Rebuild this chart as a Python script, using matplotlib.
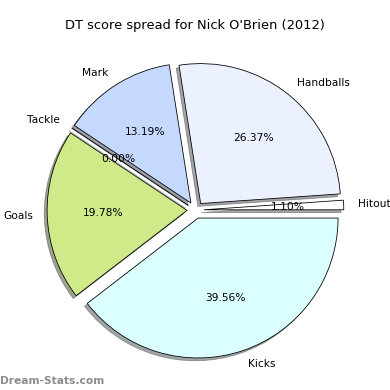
import matplotlib
matplotlib.use('Agg')
import matplotlib.pyplot as plt

# DT points per stat category (counter-clockwise from 3 o'clock)
labels = ['Hitout', 'Handballs', 'Mark', 'Tackle', 'Goals', 'Kicks']
points = [1, 24, 12, 0, 18, 36]
colors = ['#ffffff', '#ebf1ff', '#c5d9ff', '#c5d9ff', '#d0ea8a', '#dbffff']
explode = [0.06] * len(points)

fig = plt.figure(figsize=(390 / 72, 390 / 72), dpi=72)
ax = fig.add_axes([0.0526, 0.0128, 0.897, 0.897])

wedges, texts, autotexts = ax.pie(points, labels=labels, colors=colors,
                                  explode=explode, autopct='%1.2f%%',
                                  shadow=True, startangle=0,
                                  wedgeprops={'edgecolor': 'black', 'linewidth': 0.8})
for t in texts + autotexts:
    t.set_fontsize(10.6)

ax.set_title("DT score spread for Nick O'Brien (2012)", fontsize=13)

# watermark
fig.text(0.0, 0.01, 'Dream-Stats.com', color='#8c8c8c', fontsize=10.6,
         fontweight='bold', ha='left', va='bottom')

fig.savefig('out.png', dpi=72)
